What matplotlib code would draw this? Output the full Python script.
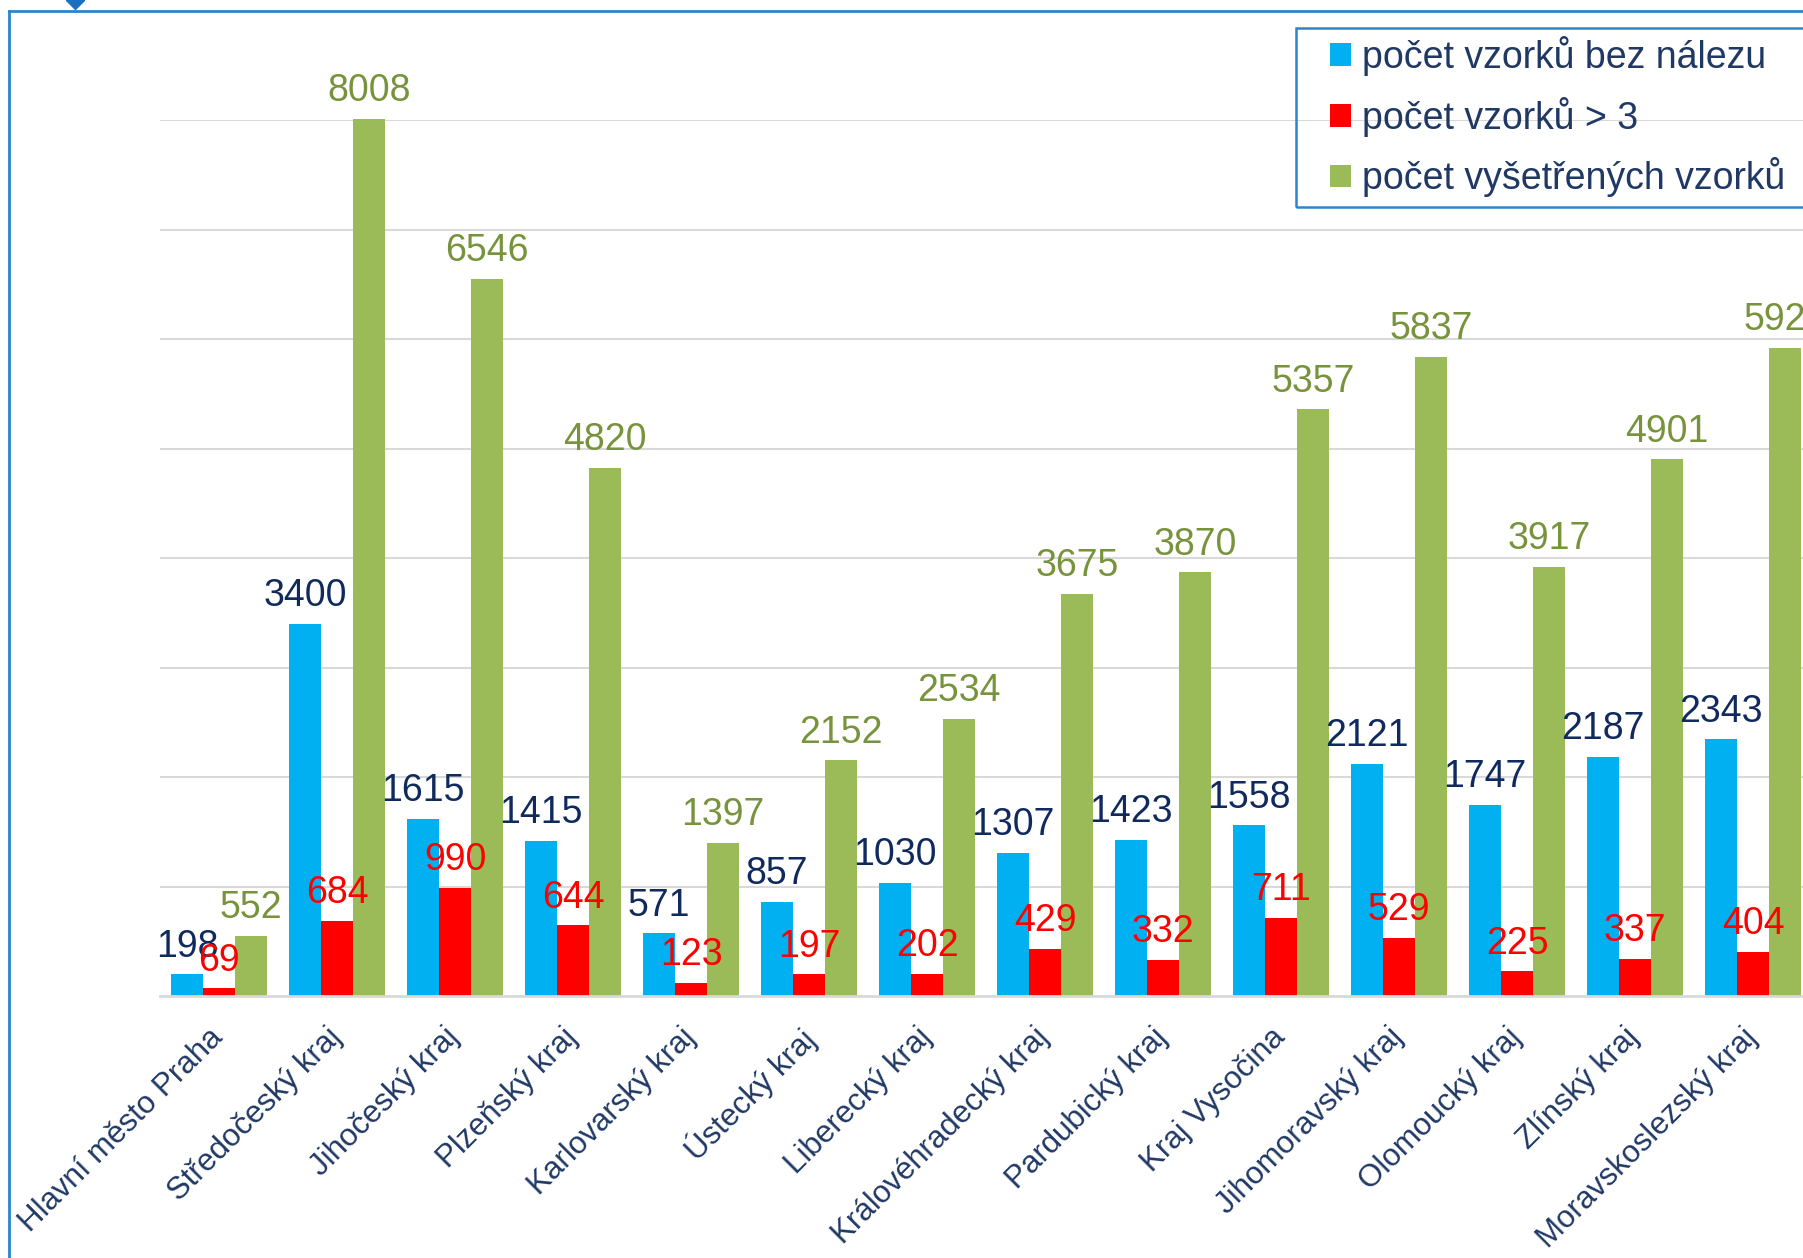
import numpy as np
import matplotlib
matplotlib.use("Agg")
import matplotlib.pyplot as plt
import matplotlib.transforms as mtransforms
from matplotlib.patches import Patch, Rectangle
from matplotlib.lines import Line2D

# data
regions = ["Hlavní město Praha", "Středočeský kraj", "Jihočeský kraj", "Plzeňský kraj",
           "Karlovarský kraj", "Ústecký kraj", "Liberecký kraj", "Královéhradecký kraj",
           "Pardubický kraj", "Kraj Vysočina", "Jihomoravský kraj", "Olomoucký kraj",
           "Zlínský kraj", "Moravskoslezský kraj"]
bez_nalezu = [198, 3400, 1615, 1415, 571, 857, 1030, 1307, 1423, 1558, 2121, 1747, 2187, 2343]
nad_3 = [69, 684, 990, 644, 123, 197, 202, 429, 332, 711, 529, 225, 337, 404]
vysetrenych = [552, 8008, 6546, 4820, 1397, 2152, 2534, 3675, 3870, 5357, 5837, 3917, 4901, 5921]
series_names = ["počet vzorků bez nálezu", "počet vzorků > 3", "počet vyšetřených vzorků"]

plt.rcParams['font.family'] = ['Liberation Sans', 'DejaVu Sans']

bar_colors = ['#00b0f0', '#ff0000', '#9bbb59']
label_colors = ['#102a5e', '#ff0000', '#77933c']
navy = '#1f3864'
frame_blue = '#2a85d0'

W, H = 1803, 1258
fig = plt.figure(figsize=(W / 100, H / 100), dpi=100)

# axes placed in pixel terms; right edge runs off the figure like the reference
left, right, base, top = 160, 1812, 996, 120
ax = fig.add_axes([left / W, 1 - base / H, (right - left) / W, (base - top) / H])

x = np.arange(len(regions))
bw = 0.271
all_series = [bez_nalezu, nad_3, vysetrenych]
for i, vals in enumerate(all_series):
    bars = ax.bar(x + (i - 1) * bw, vals, width=bw, color=bar_colors[i],
                  label=series_names[i], clip_on=False, zorder=2)
    ax.bar_label(bars, labels=[str(v) for v in vals], padding=7, fontsize=27,
                 color=label_colors[i], zorder=5, annotation_clip=False)

ax.set_xlim(-0.5, len(regions) - 0.5)
ax.set_ylim(0, 8000)
ax.set_yticks(np.arange(1000, 8001, 1000))
ax.yaxis.grid(True, color='#d9d9d9', linewidth=1.5)
ax.set_axisbelow(True)
ax.tick_params(axis='y', left=False, labelleft=False)
ax.tick_params(axis='x', length=0, pad=19)
for s in ['top', 'right', 'left']:
    ax.spines[s].set_visible(False)
ax.spines['bottom'].set_color('#d9d9d9')
ax.spines['bottom'].set_linewidth(2)

ax.set_xticks(x)
ax.set_xticklabels(regions, rotation=45, ha='right', va='top', rotation_mode='anchor',
                   fontsize=22.5, color=navy)
shift = mtransforms.ScaledTranslation(-11 / 100, 0, fig.dpi_scale_trans)
for lbl in ax.get_xticklabels():
    lbl.set_transform(lbl.get_transform() + shift)

# legend (frame drawn separately, it runs off the right edge)
handles = [Patch(facecolor=c) for c in bar_colors]
leg = fig.legend(handles, series_names, loc='upper left',
                 bbox_to_anchor=(1330 / W, 1 - 36 / H), fontsize=27,
                 handlelength=0.55, handleheight=0.55, handletextpad=0.3,
                 labelspacing=0.55, borderpad=0, borderaxespad=0,
                 frameon=False)
for t in leg.get_texts():
    t.set_color(navy)
fig.add_artist(Rectangle((1296 / W, 1 - 207 / H), (W + 20 - 1296) / W, (207 - 28) / H,
                         transform=fig.transFigure, fill=False,
                         edgecolor=frame_blue, linewidth=1.8))

# outer chart frame (top and left edges visible)
fig.add_artist(Line2D([9 / W, 9 / W], [0, 1 - 11 / H], transform=fig.transFigure,
                      color=frame_blue, linewidth=2))
fig.add_artist(Line2D([9 / W, 1], [1 - 11 / H, 1 - 11 / H], transform=fig.transFigure,
                      color=frame_blue, linewidth=2))
fig.add_artist(Line2D([75 / W], [1.0], transform=fig.transFigure, marker='D',
                      markersize=9, color='#1a6fc0', linestyle='none'))

fig.savefig("out.png", dpi=100)
